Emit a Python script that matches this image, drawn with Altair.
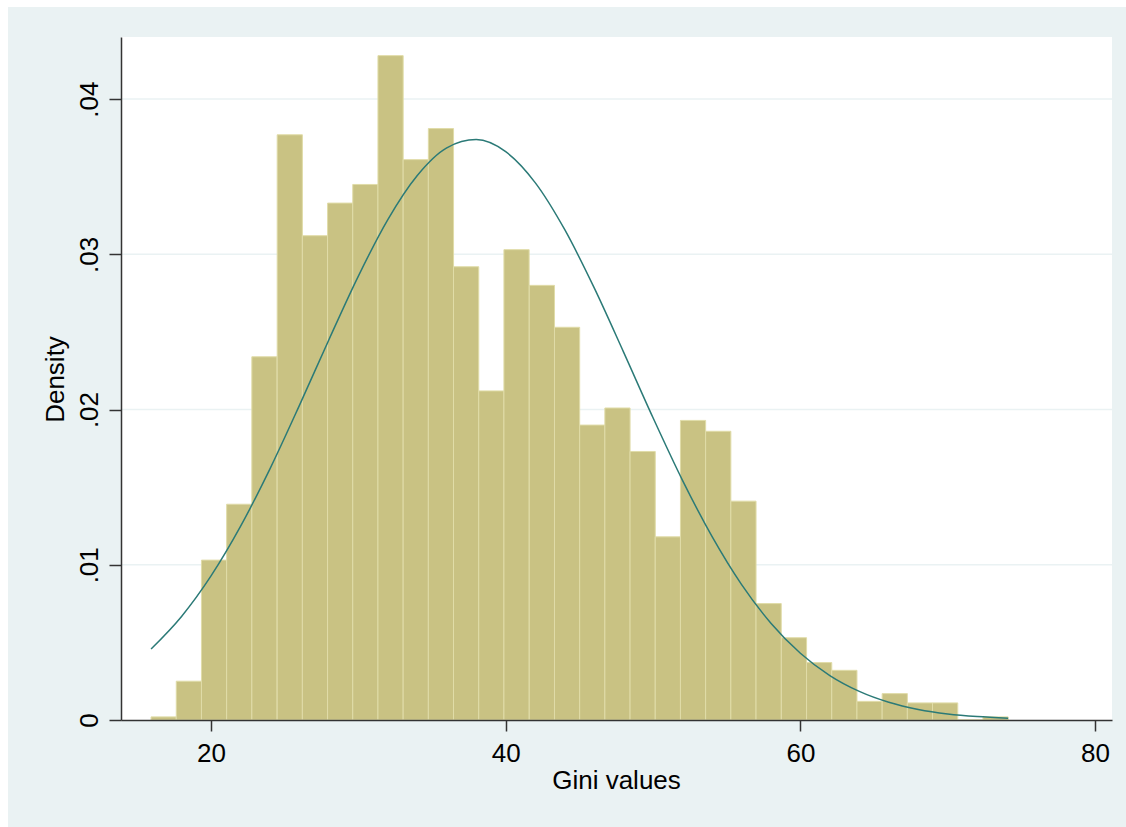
import altair as alt
import pandas as pd

# ---- data ----
bin_left = [15.93, 17.64, 19.35, 21.06, 22.77, 24.49, 26.20, 27.91, 29.62, 31.33,
            33.04, 34.75, 36.46, 38.17, 39.88, 41.60, 43.31, 45.02, 46.73, 48.44,
            50.15, 51.86, 53.57, 55.28, 56.99, 58.71, 60.42, 62.13, 63.84, 65.55,
            67.26, 68.97, 70.68, 72.39]
bin_width = 1.711
density = [0.0002, 0.0025, 0.0103, 0.0139, 0.0234, 0.0377, 0.0312, 0.0333, 0.0345, 0.0428,
           0.0361, 0.0381, 0.0292, 0.0212, 0.0303, 0.0280, 0.0253, 0.0190, 0.0201, 0.0173,
           0.0118, 0.0193, 0.0186, 0.0141, 0.0075, 0.0053, 0.0037, 0.0032, 0.0012, 0.0017,
           0.0011, 0.0011, 0.0000, 0.0002]

# overlaid density curve
curve_x = [15.93, 18, 20, 22, 24, 26, 28, 30, 32, 34, 36, 38, 40, 42, 44, 46, 48, 50,
           52, 54, 56, 58, 60, 62, 64, 66, 68, 70, 72, 74.1]
curve_y = [0.00457, 0.00667, 0.00928, 0.01247, 0.01618, 0.02027, 0.02450, 0.02860,
           0.03224, 0.03508, 0.03686, 0.03739, 0.03661, 0.03462, 0.03160, 0.02785,
           0.02370, 0.01947, 0.01544, 0.01183, 0.00874, 0.00624, 0.00430, 0.00286,
           0.00184, 0.00114, 0.00068, 0.00039, 0.00022, 0.00012]

x_ticks = [20, 40, 60, 80]
y_ticks = [0, 0.01, 0.02, 0.03, 0.04]
grid_vals = [0.01, 0.02, 0.03, 0.04]

x_domain = [13.89, 81.15]
y_domain = [0, 0.0440]

W, H = 991, 683
BG = "#EAF2F3"
FONT = "Liberation Sans"

bars = pd.DataFrame({
    "left": bin_left,
    "right": [b + bin_width for b in bin_left],
    "density": density,
    "zero": [0.0] * len(bin_left),
})
curve = pd.DataFrame({"x": curve_x, "y": curve_y})
grid = pd.DataFrame({"density": grid_vals})
one = pd.DataFrame({"a": [0]})

xscale = alt.Scale(domain=x_domain, nice=False, zero=False)
yscale = alt.Scale(domain=y_domain, nice=False)

x_axis = alt.Axis(values=x_ticks, title="Gini values", grid=False,
                  tickSize=11, labelPadding=30, labelBaseline="alphabetic",
                  labelFontSize=26, labelFont=FONT, labelColor="#000",
                  titleFontSize=26, titleFont=FONT, titleColor="#000",
                  titleFontWeight="normal", titleBaseline="alphabetic",
                  titleX=495, titleY=68, titleAnchor="middle", titleAlign="center",
                  domainColor="#333", tickColor="#333", domainWidth=1.5,
                  tickWidth=1.5, zindex=1)
y_axis = alt.Axis(values=y_ticks, title="Density", grid=False,
                  labelExpr="datum.value == 0 ? '0' : replace(format(datum.value, '.2f'), '0.', '.')",
                  labelAngle=270, labelAlign="center", labelBaseline="alphabetic",
                  tickSize=12, labelPadding=12,
                  labelFontSize=26, labelFont=FONT, labelColor="#000",
                  titleFontSize=26, titleFont=FONT, titleColor="#000",
                  titleFontWeight="normal", titleAngle=270, titleAlign="center",
                  titleBaseline="alphabetic", titleX=-58, titleY=342,
                  domainColor="#333", tickColor="#333", domainWidth=1.5,
                  tickWidth=1.5, zindex=1)

# outer bluish-gray region
outer = alt.Chart(one).mark_rect(color=BG).encode(
    x=alt.value(-113), x2=alt.value(1005), y=alt.value(-30), y2=alt.value(790)
)
# white plot region
inner = alt.Chart(one).mark_rect(color="white").encode(
    x=alt.value(0), x2=alt.value(W), y=alt.value(0), y2=alt.value(H)
)

gridlines = alt.Chart(grid).mark_rule(color=BG, strokeWidth=1.5).encode(
    y=alt.Y("density:Q", scale=yscale, axis=y_axis),
    x=alt.value(0), x2=alt.value(W),
)

bar_layer = alt.Chart(bars).mark_rect(
    fill="#C9C283", stroke="#E0DCA8", strokeWidth=1
).encode(
    x=alt.X("left:Q", scale=xscale, axis=x_axis),
    x2="right:Q",
    y=alt.Y("density:Q", scale=yscale, axis=y_axis),
    y2="zero:Q",
)

line_layer = alt.Chart(curve).mark_line(
    color="#2B7A77", strokeWidth=1.5, interpolate="monotone"
).encode(
    x=alt.X("x:Q", scale=xscale, axis=x_axis),
    y=alt.Y("y:Q", scale=yscale, axis=y_axis),
)

chart = alt.layer(outer, inner, gridlines, bar_layer, line_layer).properties(
    width=W, height=H,
    autosize=alt.AutoSizeParams(type="none"),
    padding={"left": 121, "top": 37, "right": 14, "bottom": 107},
    background="white",
).configure_view(stroke=None, fill=None)

chart.save("out.html", embed_options={"renderer": "svg", "actions": False})
